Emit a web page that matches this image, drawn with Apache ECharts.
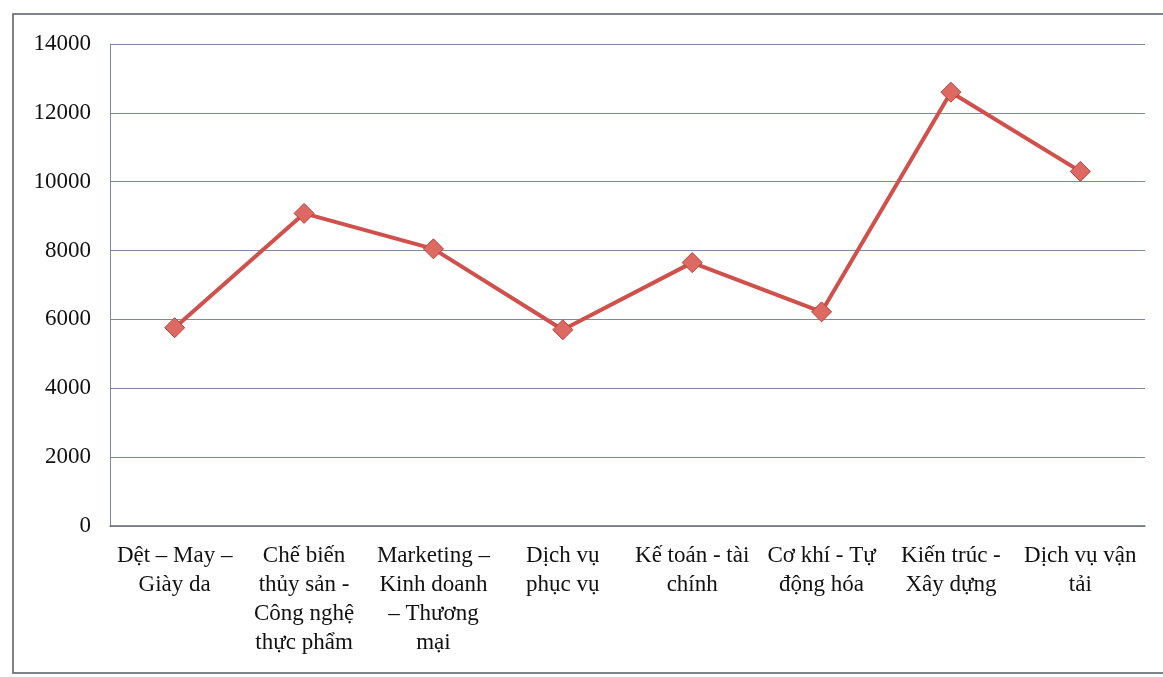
<!DOCTYPE html>
<html>
<head>
<meta charset="utf-8">
<script src="https://cdn.jsdelivr.net/npm/echarts@6/dist/echarts.min.js"></script>
<style>
html,body{margin:0;padding:0;background:#fff;}
#c{width:1163px;height:677px;}
</style>
</head>
<body>
<div id="c"></div>
<script>
const categories = [
  "Dệt – May –\nGiày da",
  "Chế biến\nthủy sản -\nCông nghệ\nthực phẩm",
  "Marketing –\nKinh doanh\n– Thương\nmại",
  "Dịch vụ\nphục vụ",
  "Kế toán - tài\nchính",
  "Cơ khí - Tự\nđộng hóa",
  "Kiến trúc -\nXây dựng",
  "Dịch vụ vận\ntải"
];
const values = [5760, 9080, 8050, 5700, 7650, 6220, 12600, 10300];
const yTicks = { min: 0, max: 14000, interval: 2000 };

const chart = echarts.init(document.getElementById('c'), null, { renderer: 'canvas' });
const font = '"Liberation Serif", "Times New Roman", serif';
chart.setOption({
  animation: false,
  backgroundColor: '#ffffff',
  graphic: [{
    type: 'rect',
    shape: { x: 13, y: 14, width: 1160, height: 659 },
    style: { fill: 'none', stroke: '#555a66', lineWidth: 1.5 },
    silent: true
  }],
  grid: { left: 110, right: 18, top: 44, bottom: 151 },
  xAxis: {
    type: 'category',
    data: categories,
    boundaryGap: true,
    axisLine: { show: true, lineStyle: { color: '#6b6f78', width: 1.5 } },
    axisTick: { show: false },
    axisLabel: {
      interval: 0,
      margin: 15,
      color: '#111111',
      fontFamily: font,
      fontSize: 23,
      lineHeight: 29,
      align: 'center'
    }
  },
  yAxis: {
    type: 'value',
    min: yTicks.min,
    max: yTicks.max,
    interval: yTicks.interval,
    axisLine: { show: true, lineStyle: { color: '#7d8aa3', width: 1 } },
    axisTick: { show: false },
    splitLine: { show: true, lineStyle: { color: '#7d8aa3', width: 1.2 } },
    axisLabel: {
      margin: 19,
      color: '#111111',
      fontFamily: font,
      fontSize: 23,
      formatter: function (v) { return String(v); }
    }
  },
  series: [{
    type: 'line',
    data: values,
    symbol: 'diamond',
    symbolSize: 20,
    lineStyle: { color: '#d0504c', width: 4 },
    itemStyle: { color: '#dd6a62', borderColor: '#b9413d', borderWidth: 1 }
  }]
});
</script>
</body>
</html>
